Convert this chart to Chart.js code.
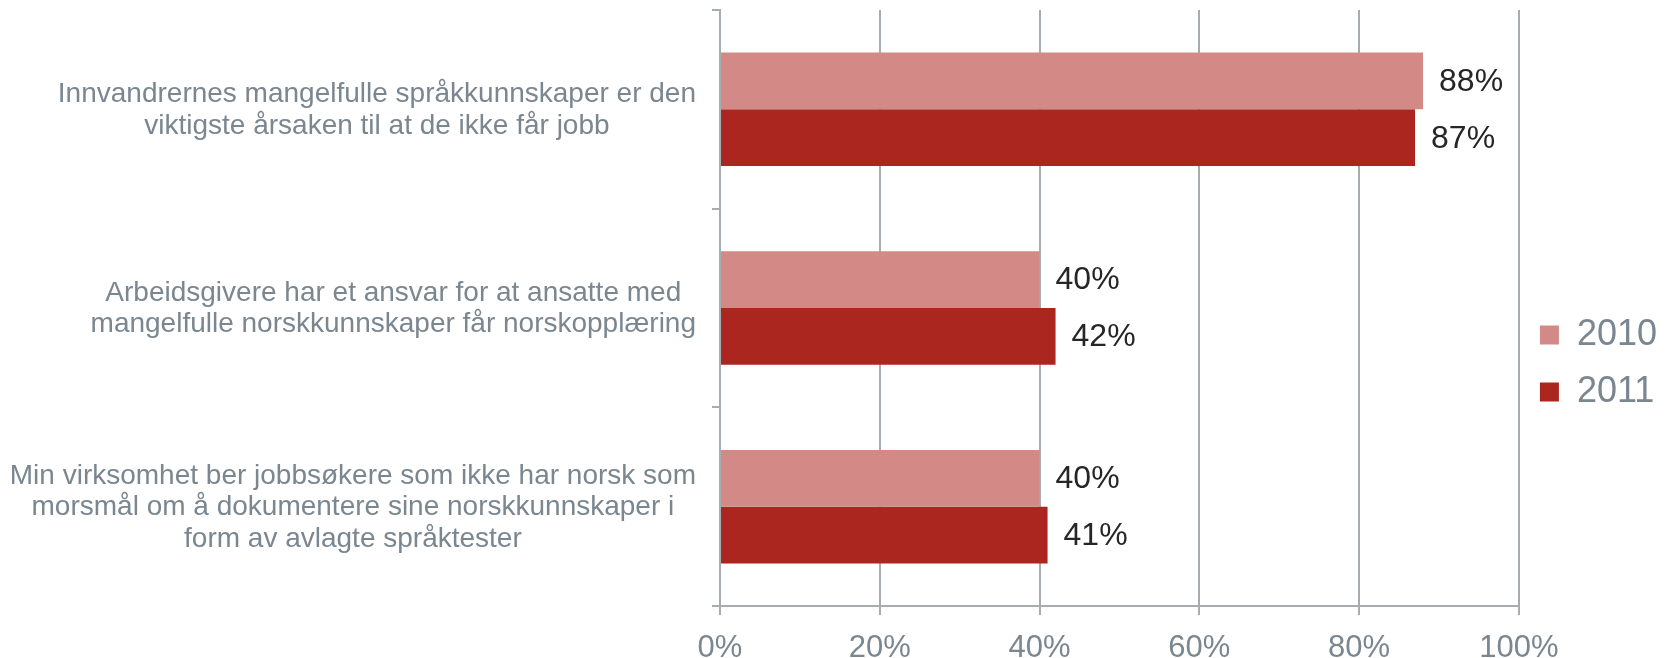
<!DOCTYPE html>
<html>
<head>
<meta charset="utf-8">
<script src="https://cdn.jsdelivr.net/npm/chart.js@4/dist/chart.umd.min.js"></script>
<style>
html,body{margin:0;padding:0;background:#ffffff;}
#wrap{width:1667px;height:658px;position:relative;}
</style>
</head>
<body>
<div id="wrap"><canvas id="c" width="1667" height="658"></canvas></div>
<script>
// ---- data ----
const categories = [
  ["Innvandrernes mangelfulle språkkunnskaper er den", "viktigste årsaken til at de ikke får jobb"],
  ["Arbeidsgivere har et ansvar for at ansatte med", "mangelfulle norskkunnskaper får norskopplæring"],
  ["Min virksomhet ber jobbsøkere som ikke har norsk som", "morsmål om å dokumentere sine norskkunnskaper i", "form av avlagte språktester"]
];
const seriesNames = ["2010", "2011"];
const values2010 = [88, 40, 40];
const values2011 = [87, 42, 41];
const xTickLabels = ["0%", "20%", "40%", "60%", "80%", "100%"];

// ---- styles ----
const FONT = "'Liberation Sans', Arial, Helvetica, sans-serif";
const GREY_TEXT = "#7a8690";
const AXIS_GREY = "#a7acb1";
const COLORS = ["#d38a87", "#aa261f"];

const customLabels = {
  id: "customLabels",
  afterDatasetsDraw(chart) {
    const ctx = chart.ctx;
    ctx.save();
    // value labels
    ctx.font = "32px " + FONT;
    ctx.fillStyle = "#262626";
    ctx.textBaseline = "middle";
    ctx.textAlign = "left";
    chart.data.datasets.forEach((ds, di) => {
      chart.getDatasetMeta(di).data.forEach((bar, i) => {
        ctx.fillText(ds.data[i] + "%", bar.x + 16, bar.y + 1);
      });
    });
    // category labels: right-aligned blocks, lines centered within block
    const ys = chart.scales.y;
    ctx.font = "28px " + FONT;
    ctx.fillStyle = GREY_TEXT;
    ctx.textAlign = "center";
    const right = ys.right - 8 - 16;
    const lh = 31.5;
    categories.forEach((lines, i) => {
      const cy = ys.getPixelForValue(i) + 1;
      const widest = Math.max(...lines.map(l => ctx.measureText(l).width));
      const cx = right - widest / 2;
      lines.forEach((l, j) => ctx.fillText(l, cx, cy + (j - (lines.length - 1) / 2) * lh));
    });
    ctx.restore();
  }
};

new Chart(document.getElementById("c"), {
  type: "bar",
  data: {
    labels: categories,
    datasets: [
      { label: seriesNames[0], data: values2010, backgroundColor: COLORS[0], borderWidth: 0,
        categoryPercentage: 0.571, barPercentage: 1 },
      { label: seriesNames[1], data: values2011, backgroundColor: COLORS[1], borderWidth: 0,
        categoryPercentage: 0.571, barPercentage: 1 }
    ]
  },
  options: {
    indexAxis: "y",
    responsive: false,
    devicePixelRatio: 1,
    animation: false,
    layout: { padding: { top: 10, left: 0, right: 0, bottom: 0 } },
    plugins: {
      tooltip: { enabled: false },
      legend: {
        position: "right",
        align: "center",
        title: { display: true, text: " ", font: { size: 10, lineHeight: 1 }, padding: { top: 24.5, bottom: 24.5 } },
        labels: {
          boxWidth: 19,
          boxHeight: 19,
          padding: 21,
          color: GREY_TEXT,
          font: { size: 36, family: FONT }
        }
      }
    },
    scales: {
      x: {
        min: 0,
        max: 100,
        afterFit(scale) { scale.height = 52; },
        ticks: {
          stepSize: 20,
          color: GREY_TEXT,
          font: { size: 31, family: FONT, lineHeight: 1 },
          padding: 18,
          maxRotation: 0,
          callback: (v, i) => xTickLabels[i]
        },
        grid: { color: AXIS_GREY, lineWidth: 2, tickLength: 9, drawTicks: true },
        border: { display: true, color: AXIS_GREY, width: 2 }
      },
      y: {
        afterFit(scale) { scale.width = 720; },
        ticks: { display: false },
        grid: { offset: true, drawOnChartArea: false, drawTicks: true, tickLength: 8, color: AXIS_GREY, lineWidth: 2 },
        border: { display: true, color: AXIS_GREY, width: 2 }
      }
    }
  },
  plugins: [customLabels]
});
</script>
</body>
</html>
